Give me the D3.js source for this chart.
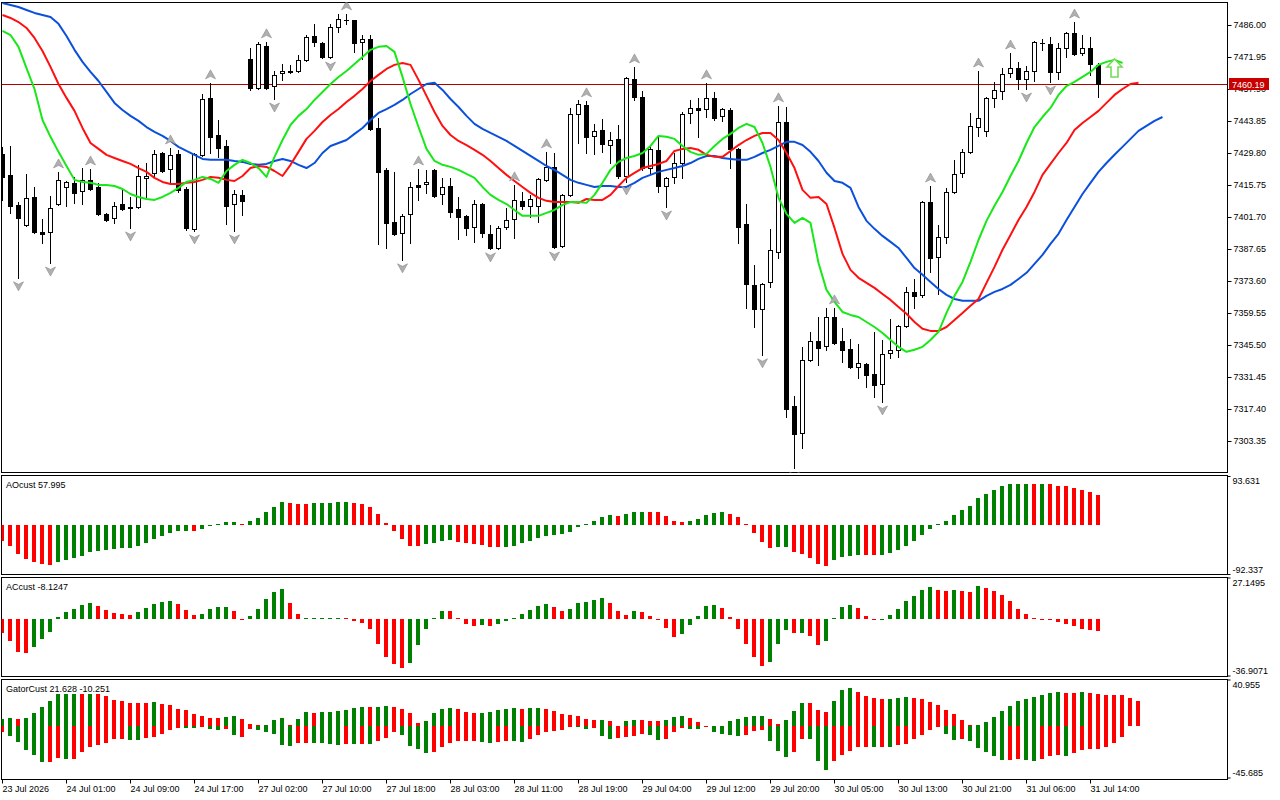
<!DOCTYPE html>
<html>
<head>
<meta charset="utf-8">
<script src="https://cdn.jsdelivr.net/npm/d3@7"></script>
<style>
    body { margin: 0; background: #fff; }
    svg { display: block; font-family: "Liberation Sans", Arial, sans-serif; }
    .axis text { font-size: 9px; fill: #000; }
    .axis line { stroke: #000; }
    .title { font-size: 9px; fill: #000; }
</style>
</head>
<body>
<svg id="chart" width="1280" height="800"></svg>
<script>

// x tick labels (bar index -> label)
var xTickIndex = [0, 8, 16, 24, 32, 40, 48, 56, 64, 72, 80, 88, 96, 104, 112, 120, 128, 136];
var xTickText = ["23 Jul 2026", "24 Jul 01:00", "24 Jul 09:00", "24 Jul 17:00", "27 Jul 02:00", "27 Jul 10:00",
    "27 Jul 18:00", "28 Jul 03:00", "28 Jul 11:00", "28 Jul 19:00", "29 Jul 04:00", "29 Jul 12:00",
    "29 Jul 20:00", "30 Jul 05:00", "30 Jul 13:00", "30 Jul 21:00", "31 Jul 06:00", "31 Jul 14:00"];

var priceTicks = [7486.00, 7471.95, 7457.90, 7443.85, 7429.80, 7415.75, 7401.70, 7387.65,
    7373.60, 7359.55, 7345.50, 7331.45, 7317.40, 7303.35];
var lastPrice = 7460.19;

var open = [7429.4, 7420.2, 7407.0, 7398.2, 7410.5, 7395.2, 7395.2, 7407.4, 7414.9, 7416.7,
    7413.2, 7418.0, 7414.9, 7403.1, 7401.3, 7407.4, 7406.1, 7406.1, 7418.9, 7421.1,
    7429.8, 7422.8, 7429.4, 7414.0, 7396.5, 7429.0, 7454.0, 7437.7, 7432.9, 7407.4,
    7411.4, 7471.1, 7458.4, 7476.8, 7459.2, 7465.0, 7465.4, 7465.8, 7470.7, 7481.2,
    7478.1, 7472.0, 7485.1, 7488.2, 7488.2, 7478.6, 7479.9, 7440.8, 7422.4, 7399.5,
    7394.7, 7403.1, 7415.8, 7416.2, 7422.4, 7411.8, 7415.3, 7405.3, 7402.2, 7397.3,
    7407.4, 7394.3, 7388.1, 7397.3, 7400.9, 7408.8, 7406.6, 7406.6, 7418.0, 7423.7,
    7389.0, 7411.4, 7447.0, 7450.9, 7437.3, 7439.9, 7433.3, 7436.0, 7419.7, 7462.3,
    7454.4, 7423.2, 7431.2, 7415.3, 7419.3, 7425.4, 7447.4, 7449.6, 7449.1, 7454.0,
    7446.1, 7448.7, 7431.6, 7398.7, 7371.9, 7361.3, 7373.2, 7386.4, 7443.4, 7318.8,
    7306.9, 7339.0, 7347.3, 7345.1, 7357.8, 7347.3, 7343.8, 7335.9, 7337.2, 7332.8,
    7328.4, 7342.0, 7343.4, 7353.9, 7368.8, 7367.5, 7408.3, 7384.2, 7393.0, 7412.7,
    7421.1, 7430.3, 7441.2, 7439.5, 7454.0, 7457.0, 7465.0, 7467.1, 7462.3, 7465.8,
    7478.3, 7477.7, 7465.4, 7475.9, 7482.5, 7473.7, 7475.9, 7468.5];

var high = [7432.5, 7432.9, 7408.3, 7420.6, 7414.9, 7400.9, 7411.0, 7421.5, 7417.5, 7419.3,
    7423.2, 7422.8, 7416.7, 7403.5, 7408.3, 7413.6, 7410.5, 7424.6, 7425.4, 7431.2,
    7430.3, 7432.0, 7431.2, 7414.9, 7429.8, 7455.7, 7460.6, 7444.3, 7435.5, 7413.6,
    7413.6, 7475.9, 7478.6, 7478.6, 7465.8, 7468.9, 7468.5, 7472.9, 7481.6, 7486.5,
    7478.6, 7486.5, 7490.9, 7490.9, 7488.4, 7481.6, 7481.6, 7445.2, 7423.2, 7421.5,
    7403.1, 7417.1, 7422.8, 7422.4, 7422.8, 7418.9, 7418.9, 7410.5, 7402.6, 7409.2,
    7407.8, 7398.2, 7397.8, 7405.7, 7415.8, 7412.7, 7411.4, 7418.9, 7430.3, 7429.8,
    7411.8, 7449.6, 7453.1, 7452.7, 7442.6, 7444.8, 7439.1, 7442.1, 7463.2, 7467.6,
    7457.0, 7432.5, 7436.9, 7419.3, 7429.8, 7447.8, 7453.1, 7454.0, 7460.6, 7456.6,
    7449.6, 7449.6, 7432.0, 7407.4, 7380.7, 7372.8, 7396.5, 7450.5, 7450.0, 7323.2,
    7344.7, 7351.3, 7357.8, 7361.8, 7361.8, 7353.0, 7348.2, 7346.0, 7337.6, 7351.3,
    7347.7, 7357.0, 7354.3, 7371.0, 7374.5, 7408.8, 7415.3, 7398.2, 7414.5, 7426.8,
    7431.6, 7447.4, 7465.8, 7454.4, 7461.0, 7467.1, 7473.7, 7469.8, 7468.0, 7479.0,
    7479.9, 7480.8, 7478.1, 7483.0, 7487.3, 7481.6, 7480.8, 7469.3];

var low = [7409.2, 7403.5, 7375.0, 7397.8, 7394.8, 7390.3, 7381.5, 7407.0, 7406.6, 7407.9,
    7407.4, 7413.6, 7402.7, 7400.0, 7399.1, 7404.8, 7396.9, 7405.7, 7410.5, 7419.3,
    7421.5, 7416.7, 7412.7, 7396.0, 7395.6, 7428.6, 7429.8, 7428.1, 7398.7, 7395.6,
    7402.6, 7457.5, 7457.9, 7458.0, 7453.5, 7461.9, 7465.0, 7465.4, 7470.2, 7476.8,
    7471.6, 7471.5, 7483.0, 7486.5, 7474.2, 7471.1, 7440.0, 7389.9, 7388.1, 7393.8,
    7382.9, 7390.3, 7409.2, 7412.3, 7410.6, 7407.4, 7401.7, 7392.1, 7393.8, 7390.8,
    7393.0, 7387.7, 7387.7, 7396.5, 7392.5, 7405.3, 7401.7, 7399.5, 7417.5, 7388.1,
    7388.4, 7411.0, 7434.2, 7429.8, 7429.4, 7430.3, 7425.4, 7418.9, 7417.1, 7453.1,
    7422.4, 7421.1, 7412.7, 7406.1, 7416.7, 7418.9, 7443.0, 7436.9, 7445.6, 7444.3,
    7443.9, 7423.2, 7390.3, 7361.8, 7353.4, 7341.2, 7371.0, 7383.7, 7313.9, 7291.5,
    7300.3, 7338.6, 7336.8, 7343.4, 7346.0, 7338.1, 7335.5, 7331.1, 7327.1, 7322.7,
    7320.5, 7339.8, 7340.3, 7353.5, 7361.8, 7366.6, 7377.6, 7367.9, 7390.3, 7412.3,
    7419.3, 7429.9, 7437.3, 7437.3, 7450.0, 7453.5, 7463.2, 7457.9, 7457.9, 7461.4,
    7475.1, 7461.0, 7462.3, 7472.0, 7472.9, 7472.9, 7464.1, 7454.4];

var close = [7419.3, 7406.6, 7401.3, 7410.1, 7395.2, 7394.3, 7405.7, 7418.0, 7417.1, 7412.3,
    7418.0, 7414.0, 7403.1, 7400.4, 7406.6, 7405.3, 7405.8, 7419.7, 7419.7, 7429.4,
    7421.9, 7429.0, 7413.6, 7396.9, 7429.4, 7453.5, 7436.9, 7432.0, 7406.6, 7411.8,
    7408.8, 7458.4, 7477.7, 7458.4, 7464.1, 7465.8, 7465.8, 7470.7, 7480.8, 7478.6,
    7472.0, 7485.1, 7488.7, 7488.0, 7478.1, 7479.9, 7440.4, 7421.5, 7399.1, 7394.3,
    7402.2, 7414.9, 7414.9, 7417.1, 7411.0, 7414.9, 7403.9, 7401.7, 7396.9, 7407.4,
    7394.7, 7388.1, 7396.9, 7400.4, 7409.2, 7406.6, 7409.6, 7418.4, 7423.7, 7388.6,
    7411.4, 7447.0, 7451.3, 7436.9, 7439.5, 7433.8, 7435.5, 7419.7, 7462.8, 7454.4,
    7423.2, 7431.6, 7415.3, 7418.9, 7425.4, 7447.0, 7449.6, 7448.7, 7454.0, 7445.2,
    7449.1, 7431.6, 7397.3, 7372.3, 7361.3, 7372.3, 7387.3, 7443.4, 7317.5, 7306.5,
    7339.0, 7347.3, 7344.2, 7357.8, 7346.4, 7343.4, 7335.9, 7337.6, 7332.4, 7328.0,
    7341.6, 7343.4, 7353.9, 7368.8, 7367.1, 7408.3, 7383.7, 7393.0, 7412.7, 7420.6,
    7430.3, 7441.7, 7445.2, 7454.0, 7457.5, 7464.5, 7467.1, 7462.3, 7465.8, 7478.6,
    7478.0, 7465.4, 7475.9, 7482.5, 7473.3, 7475.9, 7468.9, 7460.19];

// alligator lines (jaw shifted 8 bars, teeth 5, lips 3)
var jaw = [7495.7, 7494.8, 7493.9, 7492.6, 7491.3, 7490.4, 7489.5, 7486.5, 7481.2, 7475.1,
    7469.8, 7465.4, 7461.4, 7456.6, 7451.8, 7448.7, 7446.1, 7443.9, 7441.2, 7439.1,
    7437.3, 7435.1, 7432.5, 7430.7, 7429.0, 7427.2, 7426.8, 7426.8, 7426.8, 7426.3,
    7425.9, 7425.0, 7424.6, 7425.0, 7426.3, 7427.2, 7426.3, 7424.6, 7423.2, 7425.4,
    7429.8, 7432.9, 7434.2, 7435.5, 7438.2, 7440.8, 7444.3, 7447.4, 7449.1, 7450.9,
    7453.1, 7455.7, 7457.9, 7460.1, 7460.6, 7457.5, 7453.5, 7450.0, 7446.1, 7442.6,
    7440.4, 7438.6, 7436.9, 7435.1, 7432.9, 7430.7, 7428.5, 7426.3, 7424.1, 7422.4,
    7420.2, 7418.0, 7416.7, 7415.8, 7414.9, 7415.3, 7415.3, 7414.9, 7414.9, 7416.7,
    7418.9, 7420.2, 7421.5, 7422.4, 7423.2, 7424.1, 7425.4, 7427.2, 7428.5, 7428.5,
    7427.6, 7427.2, 7426.8, 7426.8, 7428.1, 7429.8, 7431.2, 7432.9, 7434.7, 7434.7,
    7433.3, 7430.3, 7426.3, 7421.1, 7417.5, 7416.7, 7414.5, 7406.1, 7400.0, 7396.5,
    7393.4, 7390.8, 7388.1, 7383.7, 7379.3, 7376.3, 7373.2, 7370.1, 7367.5, 7365.7,
    7364.9, 7364.9, 7364.9, 7367.1, 7368.8, 7370.1, 7371.9, 7374.5, 7377.2, 7381.1,
    7385.1, 7389.9, 7394.3, 7400.4, 7406.1, 7411.8, 7416.7, 7421.5, 7425.4, 7429.0,
    7432.5, 7436.0, 7439.5, 7441.7, 7443.9, 7445.6];

var teeth = [7490.4, 7489.1, 7487.3, 7484.7, 7480.3, 7474.6, 7467.6, 7460.1, 7454.0, 7448.3,
    7440.8, 7434.2, 7431.6, 7429.0, 7427.6, 7426.3, 7425.0, 7423.2, 7421.5, 7418.9,
    7417.1, 7416.2, 7416.2, 7416.7, 7417.1, 7418.0, 7419.3, 7418.9, 7418.0, 7417.5,
    7419.7, 7423.2, 7424.1, 7423.7, 7421.9, 7419.7, 7424.6, 7430.3, 7436.0, 7439.5,
    7443.4, 7446.5, 7449.1, 7452.2, 7454.9, 7457.9, 7461.4, 7464.1, 7466.7, 7468.5,
    7469.3, 7468.5, 7461.9, 7454.9, 7447.8, 7441.7, 7437.7, 7435.1, 7433.3, 7431.2,
    7429.0, 7426.3, 7423.2, 7420.2, 7417.5, 7414.9, 7412.3, 7410.1, 7408.8, 7408.3,
    7408.3, 7408.3, 7407.9, 7409.6, 7409.2, 7409.2, 7411.4, 7415.3, 7418.9, 7421.1,
    7423.2, 7424.1, 7425.0, 7426.3, 7430.7, 7431.6, 7432.0, 7431.2, 7429.0, 7428.1,
    7428.1, 7430.7, 7433.3, 7435.5, 7437.3, 7438.6, 7438.6, 7435.5, 7429.8, 7423.2,
    7413.6, 7410.1, 7410.5, 7407.4, 7396.9, 7385.5, 7378.5, 7375.0, 7372.8, 7370.6,
    7367.9, 7365.3, 7362.2, 7359.2, 7355.6, 7352.6, 7351.7, 7351.7, 7353.4, 7356.5,
    7359.6, 7362.7, 7365.7, 7372.8, 7379.8, 7387.3, 7393.8, 7400.4, 7406.1, 7412.7,
    7420.2, 7425.0, 7429.8, 7434.2, 7439.9, 7443.0, 7445.6, 7448.3, 7451.8, 7455.3,
    7457.9, 7460.1, 7460.6];

var lips = [7483.4, 7481.6, 7476.4, 7467.1, 7457.9, 7444.3, 7436.9, 7430.3, 7424.1, 7418.0,
    7417.1, 7416.7, 7415.8, 7415.8, 7415.3, 7414.0, 7411.8, 7410.5, 7409.6, 7409.2,
    7410.5, 7412.3, 7414.5, 7417.1, 7418.0, 7419.3, 7418.4, 7416.7, 7421.9, 7424.6,
    7426.8, 7425.4, 7423.2, 7419.3, 7428.1, 7435.5, 7442.1, 7446.1, 7449.1, 7453.1,
    7456.6, 7460.1, 7463.2, 7465.8, 7468.9, 7472.0, 7475.1, 7476.4, 7476.8, 7474.2,
    7463.2, 7451.3, 7441.2, 7431.6, 7426.3, 7424.6, 7423.7, 7422.4, 7420.6, 7418.9,
    7414.9, 7411.4, 7409.2, 7407.4, 7404.8, 7402.2, 7402.2, 7402.2, 7403.5, 7404.8,
    7407.0, 7408.3, 7408.3, 7407.9, 7411.4, 7416.7, 7422.4, 7425.9, 7427.6, 7428.5,
    7429.8, 7432.9, 7437.3, 7436.9, 7436.0, 7432.9, 7430.3, 7429.0, 7429.4, 7432.9,
    7436.0, 7438.2, 7440.8, 7442.6, 7441.2, 7434.2, 7423.7, 7410.1, 7403.1, 7399.1,
    7401.3, 7399.1, 7381.5, 7369.7, 7364.4, 7360.0, 7358.7, 7357.8, 7355.6, 7353.4,
    7350.8, 7347.7, 7344.7, 7342.5, 7343.4, 7344.7, 7347.7, 7351.3, 7359.6, 7367.1,
    7373.2, 7382.0, 7391.6, 7400.0, 7406.6, 7412.7, 7419.7, 7426.3, 7434.2, 7441.2,
    7445.6, 7449.6, 7455.3, 7459.2, 7461.0, 7463.2, 7465.4, 7468.5, 7469.8, 7470.7,
    7469.3];

var fractalUp = [7, 11, 21, 26, 33, 43, 52, 64, 68, 73, 79, 88, 97, 104, 116, 122, 126, 134];
var fractalDown = [2, 6, 16, 24, 29, 34, 41, 50, 61, 69, 78, 83, 95, 99, 110, 128, 131];
var signalIndex = 139, signalPrice = 7471.1;

var aoValues = [-29.2, -39.3, -54.5, -64.0, -69.0, -72.9, -75.3, -69.0, -65.9, -62.0,
    -58.3, -50.7, -48.8, -46.9, -45.0, -43.5, -42.8, -39.3, -33.0, -26.0,
    -19.7, -14.0, -11.2, -10.6, -11.3, -7.0, -0.8, 1.3, 5.4, 6.0,
    2.5, 8.2, 14.5, 25.2, 35.3, 44.8, 41.7, 40.6, 40.0, 41.8,
    42.2, 42.5, 44.6, 45.0, 42.3, 39.8, 34.7, 22.0, 5.0, -10.2,
    -26.6, -38.7, -39.2, -36.1, -34.2, -29.2, -27.9, -31.1, -34.2, -36.1,
    -37.4, -40.3, -40.8, -40.2, -38.7, -34.2, -29.8, -24.7, -19.7, -18.4,
    -17.1, -12.1, -2.6, 0.6, 8.8, 16.4, 19.5, 18.3, 20.9, 25.3,
    25.9, 25.2, 24.4, 18.3, 8.8, 6.9, 8.8, 12.6, 19.5, 24.0,
    25.9, 22.0, 16.4, 2.4, -14.0, -31.1, -43.0, -40.9, -40.3, -50.1,
    -53.9, -61.5, -72.9, -77.2, -66.4, -60.2, -57.7, -55.6, -56.0, -56.4,
    -55.8, -52.0, -46.9, -39.3, -29.2, -17.8, -7.0, 0.8, 8.8, 20.2,
    29.0, 37.2, 51.8, 59.4, 67.0, 75.2, 77.6, 78.1, 78.6, 78.3,
    78.7, 77.8, 75.6, 74.8, 70.8, 67.0, 63.2, 57.995];
var aoDir = "rrrrrrrggg" + "gggggggggg" + "ggggrggggg" + "rgggggrrrg" + "ggggrrrrrr" +
    "rrrggggrrr" + "rrrggggggg" + "gggggggrgg" + "grrrrrgggg" + "grrrrrrggr" +
    "rrrrggggrr" + "gggggggggg" + "gggggggggr" + "grrrrrrr";
var aoRange = [93.631, -92.337];

var acValues = [-8.9, -14.2, -21.4, -22.0, -18.1, -13.3, -8.3, 1.5, 4.6, 6.5,
    9.2, 10.5, 8.5, 5.9, 3.9, 3.6, 2.6, 4.6, 7.4, 9.8,
    11.1, 11.8, 9.8, 5.9, 2.6, 3.3, 6.5, 7.8, 7.9, 5.2,
    -0.4, 2.0, 6.5, 13.1, 17.6, 19.6, 10.2, 3.3, 0.4, 0.5,
    0.6, 0.7, 1.0, 0.5, -1.1, -2.4, -6.3, -16.1, -24.6, -29.4,
    -31.8, -28.5, -17.0, -6.3, 0.6, 5.2, 5.0, 0.8, -3.1, -4.4,
    -4.2, -4.4, -3.1, -1.0, 0.2, 3.3, 5.9, 8.5, 9.8, 7.8,
    5.2, 6.5, 10.5, 11.1, 12.4, 13.7, 10.5, 5.2, 2.6, 5.2,
    4.6, 2.0, -0.3, -5.7, -11.6, -9.6, -3.7, 2.2, 8.5, 9.4,
    7.2, 1.3, -6.3, -16.1, -24.6, -30.5, -27.9, -16.1, -7.0, -9.2,
    -9.0, -10.9, -16.8, -14.2, 0.2, 7.8, 9.2, 7.2, 2.0, -0.3,
    -0.1, 2.4, 6.5, 11.8, 15.0, 19.0, 20.9, 19.0, 18.3, 19.1,
    18.3, 17.6, 21.6, 20.3, 18.3, 15.7, 11.8, 6.5, 3.3, 0.6,
    -0.2, -0.4, -1.7, -3.1, -4.4, -6.3, -7.0, -8.1247];
var acDir = "rrrrgggggg" + "ggrrrrrggg" + "ggrrrggggr" + "rgggggrrgg" + "gggrrrrrrr" +
    "rgggggrrrr" + "grgggggggr" + "rgggggrrrg" + "rrrrrggggg" + "rrrrrrgggr" +
    "grrggggrrr" + "gggggggrrg" + "rrgrrrrrrr" + "rrrrrrrr";
var acRange = [27.1495, -36.9071];

var gatorUp = [5.9, 6.8, 5.9, 6.8, 11.2, 16.5, 21.8, 28.0, 28.1, 28.2,
    28.0, 28.1, 28.0, 26.0, 23.0, 22.1, 20.6, 20.5, 20.0, 20.9,
    19.2, 18.0, 15.3, 13.6, 10.3, 8.5, 6.8, 6.7, 7.7, 8.5,
    6.2, 1.5, 0.6, 0.6, 5.0, 6.8, 0.6, 5.9, 12.1, 11.2,
    12.1, 12.2, 13.0, 13.9, 15.6, 16.5, 16.4, 16.6, 17.4, 16.5,
    14.7, 11.2, 2.4, 4.1, 11.2, 14.7, 15.6, 14.7, 12.1, 11.2,
    11.3, 12.1, 13.9, 14.7, 15.6, 14.7, 15.6, 15.7, 14.7, 13.0,
    10.3, 9.4, 8.5, 5.9, 5.0, 5.1, 4.1, 0, 4.1, 5.0,
    4.9, 4.1, 4.0, 5.0, 7.7, 8.5, 6.8, 3.2, 0, 0,
    0, 4.1, 5.9, 7.7, 8.5, 8.6, 5.9, 1.5, 5.0, 13.0,
    20.0, 19.9, 13.9, 12.1, 21.8, 31.5, 33.3, 29.8, 26.2, 24.5,
    23.6, 23.7, 24.5, 25.4, 24.5, 23.6, 20.9, 18.3, 13.9, 10.3,
    5.0, 0.6, 0.7, 3.2, 7.7, 13.0, 17.4, 21.8, 23.6, 25.4,
    27.1, 28.9, 29.8, 28.9, 28.8, 29.8, 28.9, 28.0, 27.1, 27.0,
    26.9, 24.2, 21.628];
var gatorUpDir = "ggrggggggg" + "rgrrrrrrrg" + "rrrrrrrrgg" + "rrrgggrggr" + "ggggggrggr" +
    "rrrggggrrr" + "gggggrggrr" + "rrrrrgrrgg" + "rrrgggrrrr" + "rgggggrrgg" +
    "grrrgggrrr" + "rgggrrrrrr" + "rrgggggggg" + "gggrrgrrrr" + "rrr";

var gatorDown = [-5.9, -8.8, -14.1, -21.2, -25.9, -31.8, -31.6, -28.6, -29.2, -29.0,
    -22.7, -18.9, -16.8, -15.3, -11.8, -11.7, -12.4, -12.5, -10.9, -10.0,
    -7.1, -3.8, -2.1, -2.2, -2.3, -1.2, -3.0, -3.8, -3.0, -8.0,
    -10.3, -3.0, -3.8, -5.6, -7.1, -17.1, -18.0, -15.6, -15.3, -15.4,
    -15.4, -15.9, -17.1, -16.2, -16.3, -16.2, -16.3, -13.3, -10.9, -5.3,
    -8.0, -18.0, -20.6, -24.2, -23.3, -18.9, -15.3, -13.6, -13.5, -13.4,
    -14.4, -15.3, -14.4, -13.6, -13.7, -14.4, -11.8, -8.3, -5.6, -4.7,
    -3.8, -1.2, -1.3, -2.9, -2.1, -8.8, -11.8, -10.9, -10.0, -9.1,
    -7.4, -8.3, -12.7, -11.8, -5.6, -2.1, -2.9, -3.0, -0.6, -5.6,
    -7.4, -8.3, -9.1, -8.3, -4.7, -3.8, -13.6, -22.4, -27.7, -23.3,
    -11.8, -11.9, -31.2, -39.2, -31.2, -25.9, -22.4, -18.9, -18.8, -18.9,
    -18.8, -18.9, -17.1, -16.2, -11.8, -8.3, -3.8, -0.3, -7.4, -12.7,
    -11.8, -13.6, -19.7, -23.3, -26.8, -30.4, -30.3, -29.5, -30.4, -31.2,
    -29.5, -26.8, -25.9, -26.8, -24.2, -21.5, -20.6, -20.5, -18.9, -15.3,
    -10.251];
var gatorDownDir = "rgggggrrgr" + "rrrrrrggrr" + "rrrggrggrg" + "rrgggggrrg" + "gggrgrgrrr" +
    "ggggrrrrrr" + "ggrrggrrrr" + "rrggrggrrr" + "rggrrrggrg" + "gggrrrgggr" +
    "rgggrrrrrg" + "rgrrrrrrgg" + "rgggggrrgg" + "rrrgrrrrrr" + "r";
var gatorRange = [40.955, -45.685];


var histColor = {g: "#008000", r: "#ff0000"};
var plotLeft = 1.5, plotRight = 1227.5;
var panels = {
    main: {top: 2.5, bottom: 472.5},
    ao: {top: 475.5, bottom: 574.5},
    ac: {top: 577.5, bottom: 676.5},
    gator: {top: 679.5, bottom: 779.5}
};

var svg = d3.select("#chart");

var x = d3.scaleLinear().domain([0, 145]).range([2, 1162]);
var yMain = d3.scaleLinear().domain([7303.35, 7486.00]).range([441, 25]);
var yAO = d3.scaleLinear().domain([aoRange[1], aoRange[0]]).range([574, 476]);
var yAC = d3.scaleLinear().domain([acRange[1], acRange[0]]).range([675.5, 577.5]);
var yGator = d3.scaleLinear().domain([gatorRange[1], gatorRange[0]]).range([777.5, 679.5]);

var defs = svg.append("defs");
Object.keys(panels).forEach(function (k) {
    var p = panels[k];
    defs.append("clipPath").attr("id", "clip-" + k)
        .append("rect")
        .attr("x", plotLeft).attr("y", p.top)
        .attr("width", plotRight - plotLeft).attr("height", p.bottom - p.top);
    svg.append("rect")
        .attr("x", plotLeft).attr("y", p.top)
        .attr("width", plotRight - plotLeft).attr("height", p.bottom - p.top)
        .attr("fill", "#fff").attr("stroke", "#000").attr("stroke-width", 1);
});

//main window
var main = svg.append("g").attr("clip-path", "url(#clip-main)");

main.append("line")
    .attr("x1", plotLeft).attr("x2", plotRight)
    .attr("y1", Math.round(yMain(lastPrice)) + 0.5).attr("y2", Math.round(yMain(lastPrice)) + 0.5)
    .attr("stroke", "#b00000").attr("stroke-width", 1);

var candles = main.append("g").attr("shape-rendering", "crispEdges");
open.forEach(function (o, i) {
    var c = close[i];
    var cx = x(i);
    candles.append("line")
        .attr("x1", cx + 0.5).attr("x2", cx + 0.5)
        .attr("y1", Math.round(yMain(high[i]))).attr("y2", Math.round(yMain(low[i])) + 1)
        .attr("stroke", "#000");
    var top = Math.round(yMain(Math.max(o, c)));
    var bot = Math.round(yMain(Math.min(o, c)));
    if (bot - top < 1) {
        candles.append("line")
            .attr("x1", cx - 2).attr("x2", cx + 3)
            .attr("y1", top + 0.5).attr("y2", top + 0.5)
            .attr("stroke", "#000");
    } else {
        candles.append("rect")
            .attr("x", cx - 1.5).attr("y", top + 0.5)
            .attr("width", 4).attr("height", bot - top)
            .attr("fill", c >= o ? "#fff" : "#000")
            .attr("stroke", "#000");
    }
});

var line = d3.line()
    .x(function (d, i) { return x(i) + 0.5; })
    .y(function (d) { return yMain(d); });

[[jaw, "#0b50dc"], [teeth, "#ff1010"], [lips, "#18e818"]].forEach(function (s) {
    main.append("path")
        .datum(s[0])
        .attr("d", line)
        .attr("fill", "none")
        .attr("stroke", s[1])
        .attr("stroke-width", 2)
        .attr("stroke-linejoin", "round");
});

var arrowUp = "M0,-5L5,4L0,1.5L-5,4Z";
var arrowDown = "M0,5L5,-4L0,-1.5L-5,-4Z";
main.selectAll("path.fup")
    .data(fractalUp).enter()
    .append("path").attr("class", "fup")
    .attr("d", arrowUp)
    .attr("transform", function (i) { return "translate(" + (x(i) + 0.5) + "," + (yMain(high[i]) - 8) + ")"; })
    .attr("fill", "#b0b0b0").attr("stroke", "#8a8a8a").attr("stroke-width", 0.6);
main.selectAll("path.fdn")
    .data(fractalDown).enter()
    .append("path").attr("class", "fdn")
    .attr("d", arrowDown)
    .attr("transform", function (i) { return "translate(" + (x(i) + 0.5) + "," + (yMain(low[i]) + 8) + ")"; })
    .attr("fill", "#b0b0b0").attr("stroke", "#8a8a8a").attr("stroke-width", 0.6);

main.append("path")
    .attr("d", "M0,0L7.5,8L3.5,8L3.5,18L-3.5,18L-3.5,8L-7.5,8Z")
    .attr("transform", "translate(" + (x(signalIndex) + 0.5) + "," + yMain(signalPrice) + ")")
    .attr("fill", "#fff").attr("stroke", "#74dc55").attr("stroke-width", 1.6);

// price axis
var pAxis = svg.append("g").attr("class", "axis")
    .attr("transform", "translate(" + plotRight + ",0)")
    .call(d3.axisRight(yMain).tickValues(priceTicks).tickSize(4).tickPadding(2).tickFormat(d3.format(".2f")));
pAxis.select(".domain").remove();

var lp = Math.round(yMain(lastPrice));
svg.append("rect")
    .attr("x", 1229).attr("y", lp - 6).attr("width", 40).attr("height", 12)
    .attr("fill", "#c80000");
svg.append("text")
    .attr("x", 1232).attr("y", lp + 3.5)
    .attr("font-size", 9).attr("fill", "#fff")
    .text(d3.format(".2f")(lastPrice));

// histogram windows
function histogram(name, scale, values, dirs) {
    var g = svg.append("g").attr("clip-path", "url(#clip-" + name + ")").attr("shape-rendering", "crispEdges");
    var zero = Math.round(scale(0));
    values.forEach(function (v, i) {
        if (v === 0) return;
        var yv = Math.round(scale(v));
        if (yv === zero) yv = v > 0 ? zero - 1 : zero + 1;
        g.append("rect")
            .attr("x", x(i) - 2)
            .attr("y", Math.min(yv, zero))
            .attr("width", 4)
            .attr("height", Math.abs(yv - zero))
            .attr("fill", histColor[dirs[i]]);
    });
}

histogram("ao", yAO, aoValues, aoDir);
histogram("ac", yAC, acValues, acDir);
histogram("gator", yGator, gatorUp, gatorUpDir);
histogram("gator", yGator, gatorDown, gatorDownDir);

function subTitle(p, txt) {
    svg.append("text").attr("class", "title")
        .attr("x", 6).attr("y", p.top + 12)
        .text(txt);
}
subTitle(panels.ao, "AOcust " + aoValues[aoValues.length - 1]);
subTitle(panels.ac, "ACcust " + acValues[acValues.length - 1]);
subTitle(panels.gator, "GatorCust " + gatorUp[gatorUp.length - 1] + " " + gatorDown[gatorDown.length - 1]);

function subAxis(scale, range) {
    var g = svg.append("g").attr("class", "axis")
        .attr("transform", "translate(" + plotRight + ",0)")
        .call(d3.axisRight(scale).tickValues(range).tickSize(3).tickPadding(2)
            .tickFormat(function (d) { return String(d); }));
    g.select(".domain").remove();
    g.selectAll(".tick text").attr("dy", function (d, i) { return i === 0 ? "0.85em" : "-0.2em"; });
}
subAxis(yAO, aoRange);
subAxis(yAC, acRange);
subAxis(yGator, gatorRange);

// time axis
var tAxis = svg.append("g").attr("class", "axis")
    .attr("transform", "translate(0," + panels.gator.bottom + ")")
    .call(d3.axisBottom(x).tickValues(xTickIndex).tickSize(4).tickPadding(2)
        .tickFormat(function (d, i) { return xTickText[i]; }));
tAxis.select(".domain").remove();
tAxis.selectAll(".tick text").attr("text-anchor", "start").attr("x", 0);

</script>
</body>
</html>
